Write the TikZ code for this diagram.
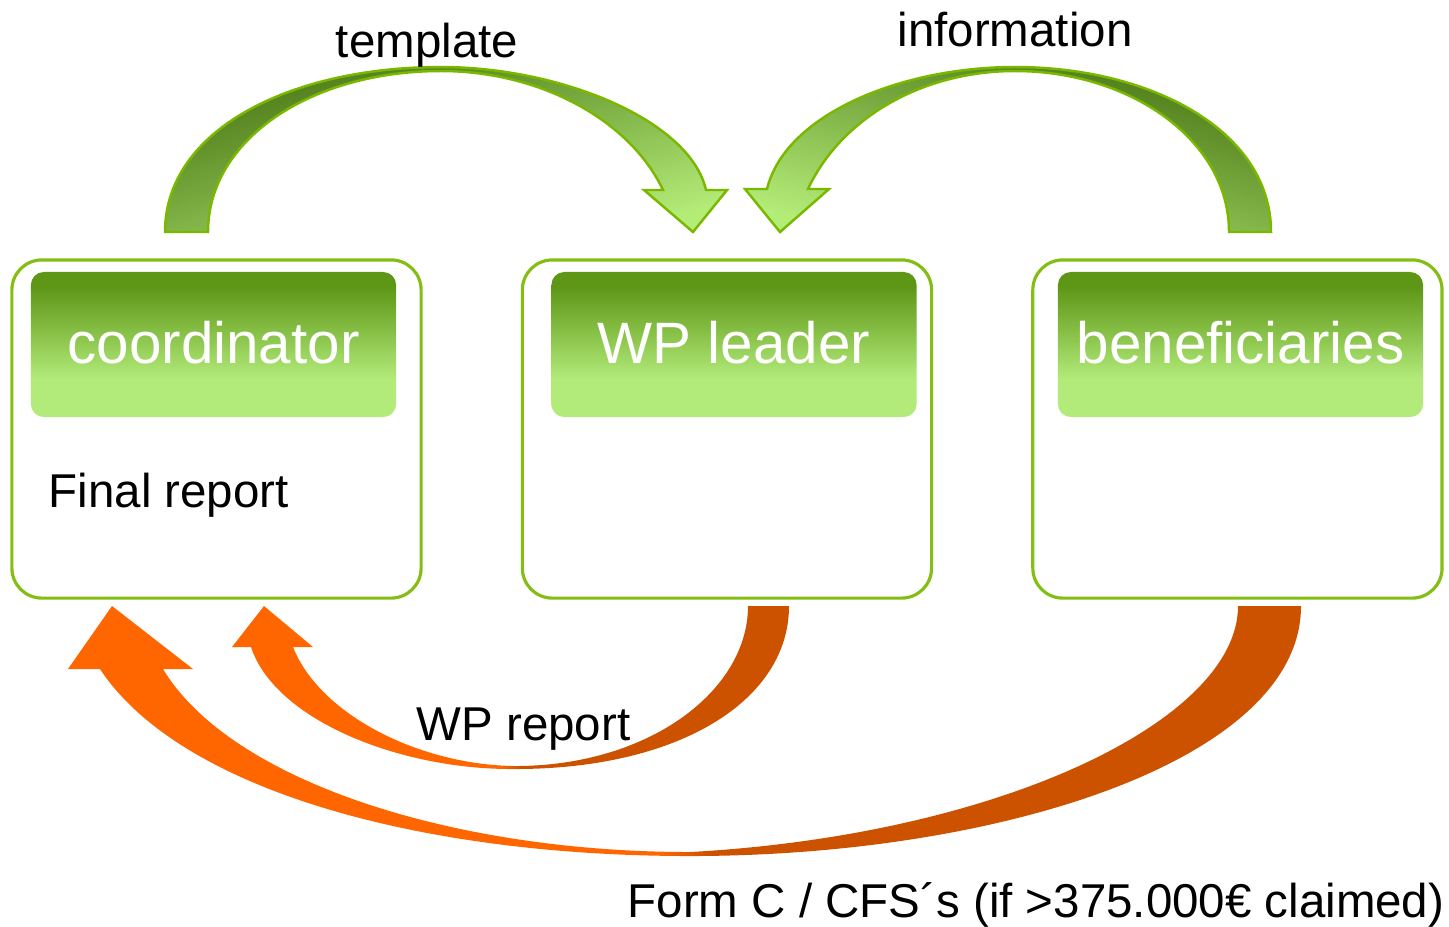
\documentclass[tikz,border=0pt]{standalone}
\usepackage{fontspec}
\setmainfont{Liberation Sans}
\usetikzlibrary{positioning}

\definecolor{boxgreen}{RGB}{132,190,20}
\definecolor{arrowline}{RGB}{122,184,0}
\definecolor{hdrdark}{RGB}{94,150,22}
\definecolor{hdrlight}{RGB}{178,235,122}
\definecolor{arrdark}{RGB}{74,118,20}
\definecolor{arrlight}{RGB}{180,236,120}
\definecolor{orlight}{RGB}{255,102,0}
\definecolor{ordark}{RGB}{204,82,0}

\pgfdeclareverticalshading{hdrshade}{100bp}{color(0bp)=(hdrlight); color(38bp)=(hdrlight); color(70bp)=(hdrdark); color(100bp)=(hdrdark)}
\pgfdeclarehorizontalshading{orshade}{100bp}{color(0bp)=(orlight); color(49bp)=(orlight); color(51bp)=(ordark); color(100bp)=(ordark)}

\begin{document}
\begin{tikzpicture}[x=0.01cm, y=-0.01cm,
    box/.style={draw=boxgreen, line width=0.9pt, fill=white, rounded corners=0.3cm,
      minimum width=4.09cm, minimum height=3.38cm, inner sep=0pt},
    header/.style={shading=hdrshade, rounded corners=0.13cm, minimum width=3.65cm,
      minimum height=1.45cm, inner sep=0pt, text=white,
      font=\fontsize{16.6}{20}\selectfont, text height=10.8pt, text depth=0pt},
    flowtext/.style={inner sep=0pt, font=\fontsize{13.5}{16}\selectfont},
    greenarrow/.style={draw=arrowline, line width=0.7pt, top color=arrdark, bottom color=arrlight},
    orangearrow/.style={shading=orshade}]
    \useasboundingbox (0,0) rectangle (1449,926);

    % the three parties
    \node(coordbox) [box] at (216.5,429) {};
    \node(wpbox) [box, right = 0.98cm of coordbox] {};
    \node(benebox) [box, right = 0.98cm of wpbox] {};

    \node(coordhead) [header] at (213.5,344.5) {coordinator};
    \node(wphead) [header] at (734,344.5) {WP leader};
    \node(benehead) [header] at (1240.5,344.5) {beneficiaries};

    \node(final) [flowtext, anchor=base west] at (48,507) {Final report};

    % template: coordinator -> WP leader
    \path[greenarrow, shading angle=15] (165,232) .. controls (165,130) and (290,67) .. (441,67)
      .. controls (560,67) and (690,120) .. (706,190)
      -- (727,190) -- (693,232) -- (644,190) -- (663,190)
      .. controls (630,120) and (540,71) .. (441,71)
      .. controls (310,71) and (208,140) .. (208,232) -- cycle;
    \node(template) [flowtext, anchor=base] at (427,57) {template};

    % information: beneficiaries -> WP leader
    \path[greenarrow, shading angle=-15] (1271,232) .. controls (1271,130) and (1150,67) .. (1015,67)
      .. controls (900,67) and (785,115) .. (767,189)
      -- (745,189) -- (780,232) -- (829,189) -- (808,189)
      .. controls (840,120) and (920,71) .. (1015,71)
      .. controls (1130,71) and (1229,140) .. (1229,232) -- cycle;
    \node(information) [flowtext, anchor=base] at (1015,46) {information};

    % WP report: WP leader -> coordinator
    \path[orangearrow] (789,606) .. controls (789,700) and (680,769) .. (515,769)
      .. controls (400,770) and (275,720) .. (251,647)
      -- (232,647) -- (264,606) -- (313,647) -- (293,647)
      .. controls (320,715) and (420,765) .. (515,766)
      .. controls (650,766) and (748,690) .. (748,606) -- cycle;
    \node(wpreport) [flowtext, anchor=base] at (523.5,740) {WP report};

    % Form C: beneficiaries -> coordinator
    \path[orangearrow] (1301,606) .. controls (1301,760) and (1000,856) .. (690,856)
      .. controls (420,856) and (180,790) .. (100,669)
      -- (68,669) -- (112,606) -- (193,669) -- (163,669)
      .. controls (230,780) and (450,852) .. (690,852)
      .. controls (1000,835) and (1238,720) .. (1238,606) -- cycle;
    \node(formc) [flowtext, anchor=base east] at (1445,917) {Form C / CFS´s (if >375.000€ claimed)};
\end{tikzpicture}
\end{document}
